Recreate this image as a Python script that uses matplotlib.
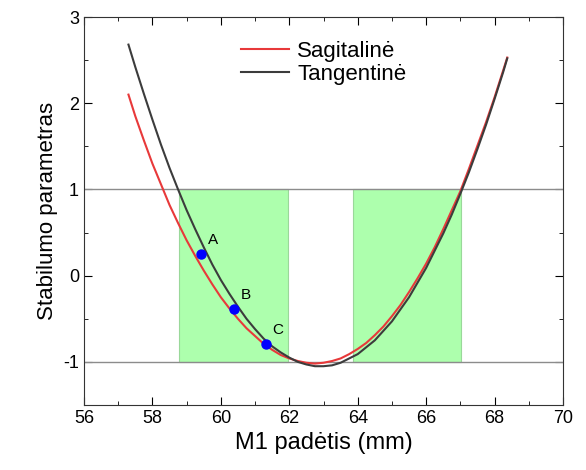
import matplotlib
matplotlib.use("Agg")
import matplotlib.pyplot as plt
from matplotlib.patches import Rectangle
from matplotlib.ticker import MultipleLocator

plt.rcParams['font.family'] = ['Liberation Sans', 'DejaVu Sans']
plt.rcParams['axes.unicode_minus'] = False

# M1 position (mm)
x_pos = [57.3, 57.5, 57.75, 58.0, 58.25, 58.5, 58.75, 59.0, 59.25, 59.5, 59.75,
         60.0, 60.25, 60.5, 60.75, 61.0, 61.25, 61.5, 61.75, 62.0, 62.25, 62.5,
         62.75, 63.0, 63.25, 63.5, 63.75, 64.0, 64.25, 64.5, 64.75, 65.0, 65.25,
         65.5, 65.75, 66.0, 66.25, 66.5, 66.75, 67.0, 67.25, 67.5, 67.75, 68.0,
         68.25, 68.37]
sagital = [2.10, 1.85, 1.57, 1.30, 1.06, 0.82, 0.61, 0.41, 0.23, 0.06, -0.10,
           -0.25, -0.38, -0.50, -0.61, -0.70, -0.79, -0.86, -0.92, -0.96, -0.99, -1.01,
           -1.02, -1.01, -0.99, -0.96, -0.91, -0.85, -0.78, -0.69, -0.59, -0.47, -0.34,
           -0.19, -0.03, 0.14, 0.33, 0.54, 0.76, 0.98, 1.24, 1.51, 1.78, 2.07,
           2.38, 2.53]
tangent = [2.68, 2.42, 2.11, 1.81, 1.52, 1.25, 1.00, 0.76, 0.54, 0.33, 0.13,
           -0.05, -0.21, -0.36, -0.50, -0.62, -0.73, -0.82, -0.89, -0.95, -1.00, -1.03,
           -1.05, -1.05, -1.04, -1.01, -0.96, -0.91, -0.83, -0.75, -0.64, -0.53, -0.39,
           -0.25, -0.08, 0.09, 0.29, 0.49, 0.71, 0.95, 1.20, 1.47, 1.75, 2.05,
           2.36, 2.52]

# stable regions (x ranges) and limits
stable_zones = [(58.78, 61.96), (63.87, 67.02)]
limits = [-1, 1]

point_names = ['A', 'B', 'C']
point_x = [59.41, 60.39, 61.31]
point_y = [0.25, -0.385, -0.79]

fig = plt.figure(figsize=(5.86, 4.70), dpi=100)
ax = fig.add_axes([0.1433, 0.1383, 0.8175, 0.8255])

for x0, x1 in stable_zones:
    ax.add_patch(Rectangle((x0, limits[0]), x1 - x0, limits[1] - limits[0],
                           facecolor='#adffad', edgecolor='#9ad89a', lw=0.8, zorder=1))
for lv in limits:
    ax.axhline(lv, color='#8c8c8c', lw=1.0, zorder=2)

ax.plot(x_pos, sagital, color='#e8393a', lw=1.5, label='Sagitalinė', zorder=3)
ax.plot(x_pos, tangent, color='#3c3c3c', lw=1.5, label='Tangentinė', zorder=4)

ax.plot(point_x, point_y, 'o', color='#0000ff', ms=6.5, zorder=5)
for name, px, py in zip(point_names, point_x, point_y):
    ax.annotate(name, (px, py), xytext=(5, 7), textcoords='offset points',
                fontsize=11, zorder=6)

ax.set_xlim(56, 70)
ax.set_ylim(-1.5, 3)
ax.xaxis.set_major_locator(MultipleLocator(2))
ax.xaxis.set_minor_locator(MultipleLocator(1))
ax.yaxis.set_major_locator(MultipleLocator(1))
ax.yaxis.set_minor_locator(MultipleLocator(0.5))
ax.tick_params(which='both', direction='in', top=True, right=True, labelsize=13)
ax.tick_params(which='major', length=6)
ax.tick_params(which='minor', length=3)
for sp in ax.spines.values():
    sp.set_color('#333333')

ax.set_xlabel('M1 padėtis (mm)', fontsize=17)
ax.set_ylabel('Stabilumo parametras', fontsize=16)

ax.legend(loc='upper left', bbox_to_anchor=(0.285, 0.99), frameon=False,
          fontsize=16, handlelength=2.2, handletextpad=0.35, labelspacing=0.1)

fig.savefig('out.png', dpi=100)
